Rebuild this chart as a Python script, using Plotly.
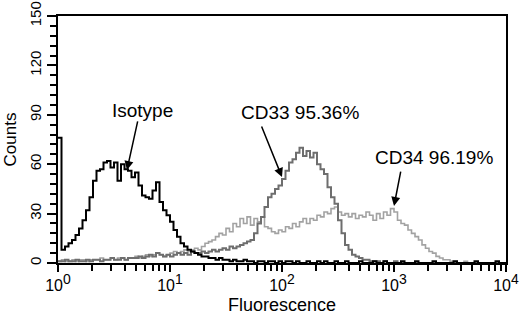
import plotly.graph_objects as go

# 128 log-spaced channels over 4 decades (10^0 .. 10^4)
n_channels = 128
decades = 4

isotype = [76, 8, 10, 12, 14, 17, 21, 26, 32, 40, 50,
           56, 57, 61, 62, 58, 61, 50, 60, 57, 56,
           52, 55, 47, 41, 40, 39, 44, 49, 37, 32,
           29, 25, 20, 16, 12, 10, 8, 7, 6, 5,
           4, 4, 3, 3, 2, 3, 2, 2, 1, 2,
           1, 1, 2, 1, 1, 0, 1, 1, 0, 1,
           1, 0, 1, 0, 1, 1, 0, 1, 0, 0,
           1, 0, 0, 1, 0, 1, 0, 0, 1, 0,
           0, 1, 0, 0, 0, 1, 0, 0, 0, 1,
           0, 0, 1, 0, 0, 0, 0, 1, 0, 0,
           0, 1, 0, 0, 0, 0, 1, 0, 0, 0,
           0, 0, 1, 0, 0, 0, 0, 0, 1, 0,
           0, 0, 0, 0, 1, 0, 0]

cd33 = [1, 1, 2, 1, 1, 2, 1, 1, 2, 1, 2,
        2, 1, 2, 2, 3, 2, 2, 3, 2, 3,
        3, 3, 4, 3, 4, 5, 4, 6, 5, 4,
        5, 4, 5, 6, 5, 6, 5, 7, 6, 6,
        7, 6, 7, 8, 7, 8, 9, 8, 10, 9,
        10, 11, 12, 13, 14, 18, 24, 28, 34, 40,
        42, 45, 47, 51, 56, 61, 63, 67, 70, 65,
        68, 64, 67, 60, 57, 54, 46, 40, 36, 26,
        18, 11, 8, 5, 4, 3, 2, 2, 1, 1,
        1, 0, 1, 0, 0, 1, 0, 0, 0, 0,
        0, 0, 0, 0, 0, 0, 0, 0, 0, 0,
        0, 0, 0, 0, 0, 0, 0, 0, 0, 0,
        0, 0, 0, 0, 0, 0, 0]

cd34 = [1, 2, 1, 1, 2, 1, 2, 2, 1, 2, 2,
        2, 3, 2, 2, 3, 2, 3, 3, 2, 3,
        3, 4, 3, 4, 5, 4, 5, 6, 5, 4,
        5, 6, 7, 6, 7, 8, 7, 8, 9, 8,
        10, 12, 13, 14, 16, 18, 17, 21, 19, 24,
        22, 27, 24, 28, 23, 27, 25, 28, 22, 21,
        19, 18, 20, 19, 22, 21, 24, 22, 25, 27,
        24, 27, 26, 29, 28, 31, 30, 33, 34, 31,
        29, 30, 28, 30, 27, 29, 28, 31, 29, 26,
        30, 27, 31, 29, 33, 31, 26, 24, 23, 20,
        18, 16, 14, 11, 9, 7, 6, 4, 3, 2,
        2, 1, 1, 0, 0, 1, 0, 0, 0, 0,
        0, 0, 0, 0, 0, 0, 0]

series_names = ["Isotype", "CD33", "CD34"]
series_colors = ["#000000", "#6e6e6e", "#a2a2a2"]
series_widths = [2, 2, 1.6]

x_tick_vals = [1, 10, 100, 1000, 10000]
x_exponents = ["0", "1", "2", "3", "4"]
x_tick_text = ["10<sup><span style='font-size:14px'>%s</span></sup>" % e for e in x_exponents]
y_tick_vals = [0, 30, 60, 90, 120, 150]

# channel edges in fluorescence units
edges = [10 ** (decades * k / n_channels) for k in range(n_channels + 1)]
minor_x = [m * 10 ** d for d in range(decades) for m in range(2, 10)]

fig = go.Figure()
order = [2, 1, 0]  # draw light first, black on top
all_vals = [isotype, cd33, cd34]
for i in order:
    vals = all_vals[i]
    fig.add_trace(go.Scatter(
        x=edges, y=list(vals) + [vals[-1]],
        mode="lines", line=dict(color=series_colors[i], width=series_widths[i], shape="hv"),
        name=series_names[i], showlegend=False, hoverinfo="skip"))

FONT = "Arial, Liberation Sans, sans-serif"

fig.update_layout(
    width=520, height=315,
    margin=dict(l=58, r=14, t=16, b=52, autoexpand=False),
    paper_bgcolor="white", plot_bgcolor="white",
    font=dict(family=FONT, color="black"),
    xaxis=dict(
        type="log", range=[0, 4], automargin=False, ticklabeloverflow="allow",
        tickmode="array", tickvals=x_tick_vals, ticktext=x_tick_text,
        tickfont=dict(size=16),
        ticks="outside", ticklen=7, tickwidth=1.5, tickcolor="black",
        minor=dict(tickmode="array", tickvals=minor_x, ticks="outside", ticklen=6,
                   tickwidth=1.5, tickcolor="black", showgrid=False),
        showline=True, linecolor="black", linewidth=2, mirror=True,
        showgrid=False, zeroline=False,
        title=dict(text="Fluorescence", font=dict(size=18), standoff=10),
    ),
    yaxis=dict(
        range=[0, 150], automargin=False, ticklabeloverflow="allow",
        tickmode="array", tickvals=y_tick_vals,
        tickangle=-90, tickfont=dict(size=15),
        ticks="outside", ticklen=9, tickwidth=1.5, tickcolor="black",
        minor=dict(dtick=6, ticks="outside", ticklen=6, tickwidth=1.5,
                   tickcolor="black", showgrid=False),
        showline=True, linecolor="black", linewidth=2, mirror=True,
        showgrid=False, zeroline=False,
        title=dict(text="Counts", font=dict(size=17), standoff=6),
    ),
)

labels = [
    dict(text="Isotype", x=0.75, y=92.9),
    dict(text="CD33 95.36%", x=2.161, y=91.1),
    dict(text="CD34 96.19%", x=3.357, y=63.8),
]
for lab in labels:
    fig.add_annotation(x=lab["x"], y=lab["y"], xref="x", yref="y", text=lab["text"],
                       showarrow=False, font=dict(size=19, family=FONT, color="black"))

arrows = [
    dict(x=0.616, y=56.5, ax=11, ay=-50),
    dict(x=2.0, y=52.2, ax=-21, ay=-52),
    dict(x=3.0, y=34.6, ax=7, ay=-36),
]
for a in arrows:
    fig.add_annotation(x=a["x"], y=a["y"], xref="x", yref="y", text="",
                       showarrow=True, ax=a["ax"], ay=a["ay"],
                       arrowhead=2, arrowsize=1.2, arrowwidth=1.5, arrowcolor="black",
                       standoff=0, startstandoff=0)

# remove the default 8px page margin so the figure sits at the window's corner
fig.write_html("out.html", config={"displayModeBar": False},
               post_script="document.body.style.margin='0';")
